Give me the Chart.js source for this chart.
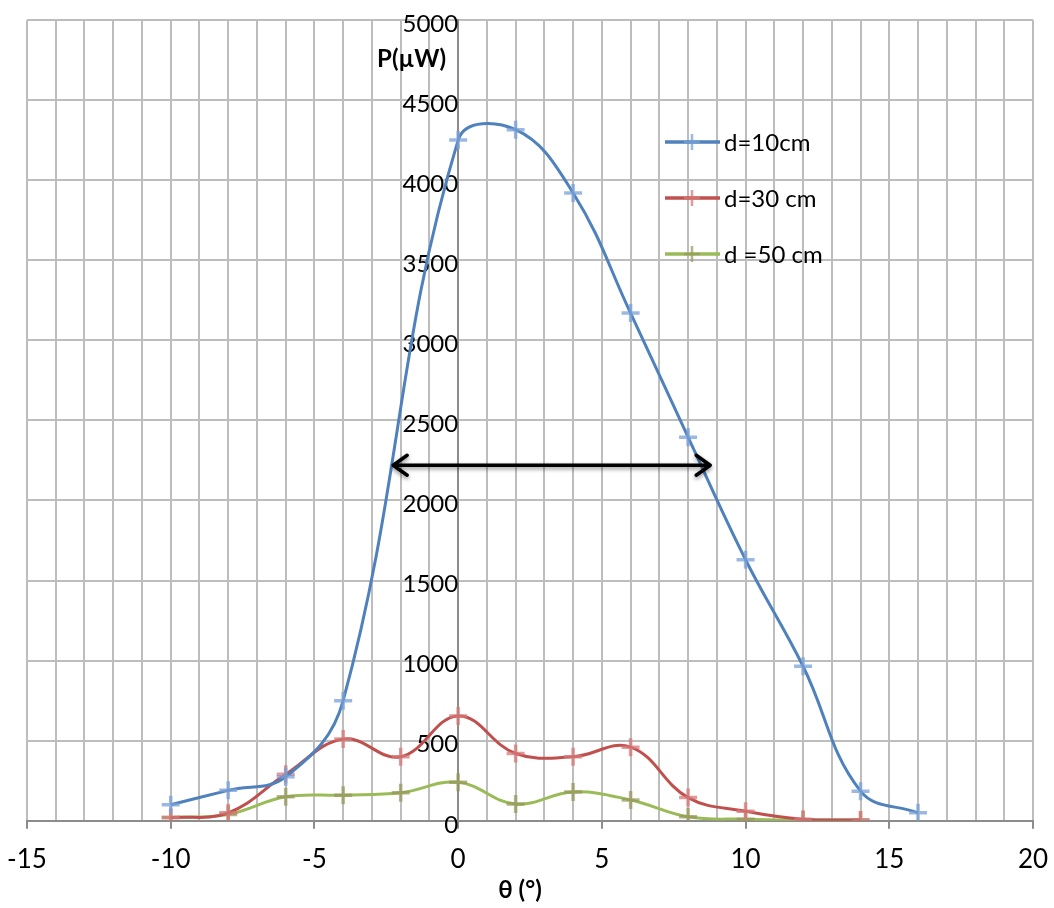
<!DOCTYPE html>
<html>
<head>
<meta charset="utf-8">
<script src="https://cdn.jsdelivr.net/npm/chart.js@4"></script>
<style>
  body { margin: 0; background: #fff; }
  canvas { display: block; }
</style>
</head>
<body>
<canvas id="powerChart" width="1054" height="908"></canvas>
<script>
// angles (degrees) and measured power (µW)
let anglesBlue = [-10, -8, -6, -4, 0, 2, 4, 6, 8, 10, 12, 14, 16];
let power10cm = [100, 190, 275, 750, 4250, 4315, 3920, 3170, 2395, 1630, 965, 185, 50];

let anglesRG = [-10, -8, -6, -4, -2, 0, 2, 4, 6, 8, 10, 12, 14];
let power30cm = [20, 50, 290, 510, 400, 655, 420, 400, 460, 145, 60, 10, 5];
let power50cm = [20, 40, 150, 160, 175, 240, 105, 180, 130, 25, 10, 5, 5];

let seriesLabels = ['d=10cm', 'd=30 cm', 'd =50 cm'];
let seriesColors = ['#4F81BD', '#C0504D', '#9BBB59'];
let markerColors = ['rgba(120,160,215,0.75)', 'rgba(215,120,120,0.75)', 'rgba(150,150,90,0.7)'];

// width of the beam at half power: arrow ends (angle, power)
let arrowFrom = [-2.26, 2220];
let arrowTo = [8.77, 2220];

function toPoints(xs, ys) {
  return xs.map((x, i) => ({ x: x, y: ys[i] }));
}

function makeSet(i, xs, ys) {
  return {
    label: seriesLabels[i],
    data: toPoints(xs, ys),
    showLine: true,
    borderColor: seriesColors[i],
    borderWidth: 3,
    tension: 0.4,
    pointStyle: 'cross',
    pointRadius: 9,
    pointBorderWidth: 3.5,
    pointBorderColor: markerColors[i],
    pointBackgroundColor: markerColors[i]
  };
}

const FONT = 'Lato, "Liberation Sans", sans-serif';

let extrasPlugin = {
  id: 'extras',
  afterDatasetsDraw(chart) {
    const ctx = chart.ctx;
    const xs = chart.scales.x, ys = chart.scales.y;

    // double arrow
    const x1 = xs.getPixelForValue(arrowFrom[0]), y1 = ys.getPixelForValue(arrowFrom[1]);
    const x2 = xs.getPixelForValue(arrowTo[0]), y2 = ys.getPixelForValue(arrowTo[1]);
    ctx.save();
    ctx.strokeStyle = '#000';
    ctx.lineWidth = 3.5;
    ctx.lineCap = 'round';
    ctx.lineJoin = 'round';
    ctx.shadowColor = 'rgba(0,0,0,0.45)';
    ctx.shadowBlur = 4;
    ctx.shadowOffsetY = 2;
    ctx.beginPath();
    ctx.moveTo(x1, y1);
    ctx.lineTo(x2, y2);
    ctx.moveTo(x1 + 14, y1 - 10);
    ctx.lineTo(x1, y1);
    ctx.lineTo(x1 + 14, y1 + 10);
    ctx.moveTo(x2 - 14, y2 - 10);
    ctx.lineTo(x2, y2);
    ctx.lineTo(x2 - 14, y2 + 10);
    ctx.stroke();
    ctx.restore();
  },
  afterDraw(chart) {
    const ctx = chart.ctx;
    const xs = chart.scales.x;
    ctx.save();

    // y axis title, next to the 0° axis
    ctx.fillStyle = '#000';
    ctx.font = 'bold 24px ' + FONT;
    ctx.textAlign = 'right';
    ctx.textBaseline = 'middle';
    ctx.fillText('P(µW)', xs.getPixelForValue(0) - 12, 59);

    // x axis title
    ctx.textAlign = 'center';
    ctx.fillText('θ (°)', (chart.chartArea.left + chart.chartArea.right) / 2 - 10, 890);

    // legend
    ctx.font = '24px ' + FONT;
    ctx.textAlign = 'left';
    for (let i = 0; i < seriesLabels.length; i++) {
      const ly = 142 + i * 56;
      ctx.strokeStyle = seriesColors[i];
      ctx.lineWidth = 3.5;
      ctx.beginPath();
      ctx.moveTo(665, ly);
      ctx.lineTo(720, ly);
      ctx.stroke();
      ctx.strokeStyle = markerColors[i];
      ctx.lineWidth = 2.5;
      ctx.beginPath();
      ctx.moveTo(684, ly);
      ctx.lineTo(700, ly);
      ctx.moveTo(692, ly - 8);
      ctx.lineTo(692, ly + 8);
      ctx.stroke();
      ctx.fillStyle = '#000';
      ctx.fillText(seriesLabels[i], 724, ly + 1);
    }
    ctx.restore();
  }
};

let powerCtx = document.getElementById('powerChart').getContext('2d');
new Chart(powerCtx, {
  type: 'scatter',
  data: {
    datasets: [
      makeSet(0, anglesBlue, power10cm),
      makeSet(1, anglesRG, power30cm),
      makeSet(2, anglesRG, power50cm)
    ]
  },
  options: {
    responsive: false,
    animation: false,
    events: [],
    layout: { padding: { top: 20, right: 21, left: 27, bottom: 18 } },
    plugins: {
      legend: { display: false },
      tooltip: { enabled: false }
    },
    scales: {
      x: {
        type: 'linear',
        min: -15,
        max: 20,
        afterBuildTicks(axis) {
          const t = [];
          for (let v = -15; v <= 20; v++) t.push({ value: v });
          axis.ticks = t;
        },
        afterFit(scale) {
          scale.paddingLeft = 0;
          scale.paddingRight = 0;
        },
        ticks: {
          autoSkip: false,
          maxRotation: 0,
          color: '#000',
          font: { family: FONT, size: 26 },
          padding: 15,
          callback: v => (v % 5 === 0 ? String(v) : '')
        },
        grid: {
          color: '#BDBDBD',
          lineWidth: 2,
          tickLength: 8,
          tickColor: c => (c.tick && c.tick.value % 5 === 0 ? '#8C8C8C' : 'rgba(0,0,0,0)')
        },
        border: { color: '#8C8C8C', width: 2 }
      },
      y: {
        type: 'linear',
        min: 0,
        max: 5000,
        position: { x: 0 },
        afterFit(scale) {
          scale.paddingTop = 0;
          scale.paddingBottom = 0;
        },
        ticks: {
          stepSize: 500,
          color: '#000',
          font: { family: FONT, size: 24 },
          padding: 24,
          labelOffset: 4,
          callback: v => String(v)
        },
        grid: {
          color: '#BDBDBD',
          lineWidth: 2,
          drawTicks: false
        },
        border: { color: '#8C8C8C', width: 2 }
      }
    }
  },
  plugins: [extrasPlugin]
});
</script>
</body>
</html>
